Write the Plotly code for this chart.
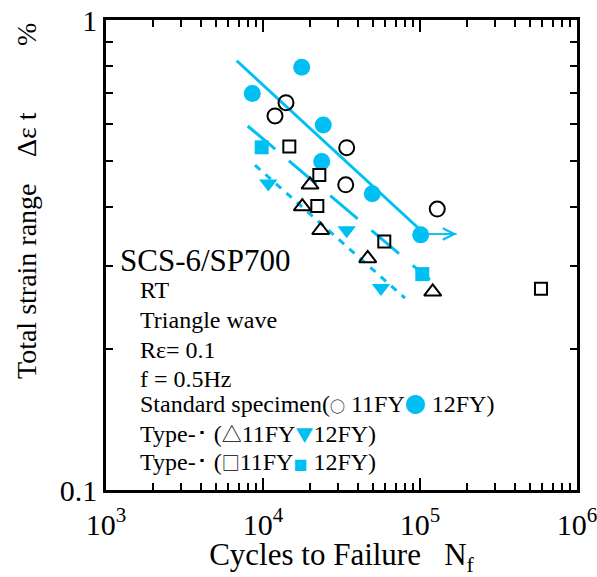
import plotly.graph_objects as go
import numpy as np

CYAN = "#00C0F3"

# Standard specimen
std_11_x = [14010, 11925, 34120, 33640, 128800]
std_11_y = [0.667, 0.625, 0.535, 0.446, 0.396]
std_12_x = [17640, 8546, 24210, 23660, 49660, 101000]
std_12_y = [0.793, 0.698, 0.598, 0.500, 0.427, 0.349]
# Type (triangles)
tri_11_x = [19930, 17800, 23310, 46440, 120500]
tri_11_y = [0.446, 0.401, 0.357, 0.311, 0.264]
tri_12_x = [10810, 34120, 56430]
tri_12_y = [0.449, 0.357, 0.269]
# Type (squares)
sq_11_x = [14710, 22840, 22180, 59230, 589700]
sq_11_y = [0.538, 0.468, 0.402, 0.338, 0.268]
sq_12_x = [9810, 103400]
sq_12_y = [0.536, 0.288]
# fitted lines
fit_std_x = [6800, 101000]
fit_std_y = [0.819, 0.357]
fit_sq_x = [7990, 115800]
fit_sq_y = [0.595, 0.280]
fit_tri_x = [8895, 80260]
fit_tri_y = [0.491, 0.256]
# run-out arrow
arrow_x = [101000, 171300]
arrow_y = [0.3505, 0.3505]

# axis ticks
x_major = [1e3, 1e4, 1e5, 1e6]
x_major_text = ["10<sup>3</sup>", "10<sup>4</sup>", "10<sup>5</sup>", "10<sup>6</sup>"]
y_major = [0.1, 1]
y_major_text = ["0.1", "1"]
x_minor = [m * 10 ** d for d in (3, 4, 5) for m in range(2, 10)]
y_minor = [m / 10 for m in range(2, 10)]

FONT = "Liberation Serif"

fig = go.Figure()
fig.add_trace(go.Scatter(x=fit_std_x, y=fit_std_y, mode="lines",
                         line=dict(color=CYAN, width=3)))
fig.add_trace(go.Scatter(x=fit_sq_x, y=fit_sq_y, mode="lines",
                         line=dict(color=CYAN, width=3, dash="36px,18px")))
fig.add_trace(go.Scatter(x=fit_tri_x, y=fit_tri_y, mode="lines",
                         line=dict(color=CYAN, width=3, dash="7px,7px")))
fig.add_trace(go.Scatter(x=arrow_x, y=arrow_y, mode="lines",
                         line=dict(color=CYAN, width=1.5)))

def mk(xs, ys, symbol, size, filled):
    if filled:
        m = dict(symbol=symbol, size=size, color=CYAN, line=dict(width=0))
    else:
        m = dict(symbol=symbol + "-open", size=size, color="black", line=dict(width=2))
    fig.add_trace(go.Scatter(x=xs, y=ys, mode="markers", marker=m))

mk(std_11_x, std_11_y, "circle", 15, False)
mk(std_12_x, std_12_y, "circle", 17, True)
mk(tri_11_x, tri_11_y, "triangle-up", 15, False)
mk(tri_12_x, tri_12_y, "triangle-down", 16, True)
mk(sq_11_x, sq_11_y, "square", 12, False)
mk(sq_12_x, sq_12_y, "square", 14, True)

# arrow head
fig.add_annotation(x=np.log10(arrow_x[1]), y=np.log10(arrow_y[1]),
                   ax=np.log10(arrow_x[0]), ay=np.log10(arrow_y[0]),
                   xref="x", yref="y", axref="x", ayref="y", text="",
                   showarrow=True, arrowhead=5, arrowsize=1.5, arrowwidth=1.5,
                   arrowcolor=CYAN)

def px2paper(px, py):
    return (px - 106) / 471.0, (490 - py) / 470.0

def note(text, px, py, size):
    x, y = px2paper(px, py)
    fig.add_annotation(x=x, y=y, xref="paper", yref="paper", text=text,
                       showarrow=False, xanchor="left", yanchor="middle",
                       font=dict(family=FONT, size=size, color="black"))

def sym(s, size, color="black"):
    return (f'<span style="color:{color};font-family:\'Noto Sans CJK JP\';'
            f'font-size:{size}px">{s}</span>')

note("SCS-6/SP700", 118, 260, 31)
note("RT", 138, 290, 24)
note("Triangle wave", 138, 320, 24)
note("Rε= 0.1", 138, 350, 24)
note("f = 0.5Hz", 138, 379, 24)
note("Standard specimen(" + sym("○", 15) + " 11FY" + sym("●", 21, CYAN) + " 12FY)", 138, 403, 24)
note("Type-･ (" + sym("△", 20) + "11FY" + sym("▼", 18, CYAN) + "12FY)", 138, 433, 24)
note("Type-･ (" + sym("□", 18) + "11FY" + sym("■", 14, CYAN) + " 12FY)", 138, 462, 24)

# y-axis title pieces
def ytitle(text, py):
    x, y = px2paper(26, py)
    fig.add_annotation(x=x, y=y, xref="paper", yref="paper", text=text,
                       showarrow=False, textangle=-90, xanchor="center", yanchor="middle",
                       font=dict(family=FONT, size=28, color="black"))

ytitle("Total strain range", 281)
ytitle("Δε t", 135)
ytitle("%", 35)

axis_common = dict(type="log", showgrid=False, zeroline=False, showline=True,
                   linecolor="black", linewidth=2.5, mirror="ticks", automargin=False,
                   ticks="inside", ticklen=12, tickwidth=2, tickcolor="black",
                   ticklabeloverflow="allow",
                   tickfont=dict(family=FONT, size=30, color="black"))

fig.update_xaxes(range=[3, 6], tickvals=x_major, ticktext=x_major_text,
                 ticklabelstandoff=6,
                 minor=dict(ticks="inside", ticklen=7, tickwidth=2, tickcolor="black",
                            showgrid=False, tickvals=x_minor),
                 title=dict(text="Cycles to Failure   N<sub>f</sub>",
                            font=dict(family=FONT, size=31, color="black"), standoff=2),
                 **axis_common)
fig.update_yaxes(range=[-1, 0], tickvals=y_major, ticktext=y_major_text,
                 minor=dict(ticks="inside", ticklen=7, tickwidth=2, tickcolor="black",
                            showgrid=False, tickvals=y_minor),
                 **axis_common)

fig.update_layout(width=597, height=577, showlegend=False,
                  margin=dict(l=106, r=20, t=20, b=87),
                  paper_bgcolor="white", plot_bgcolor="white")

fig.write_html("out.html")
